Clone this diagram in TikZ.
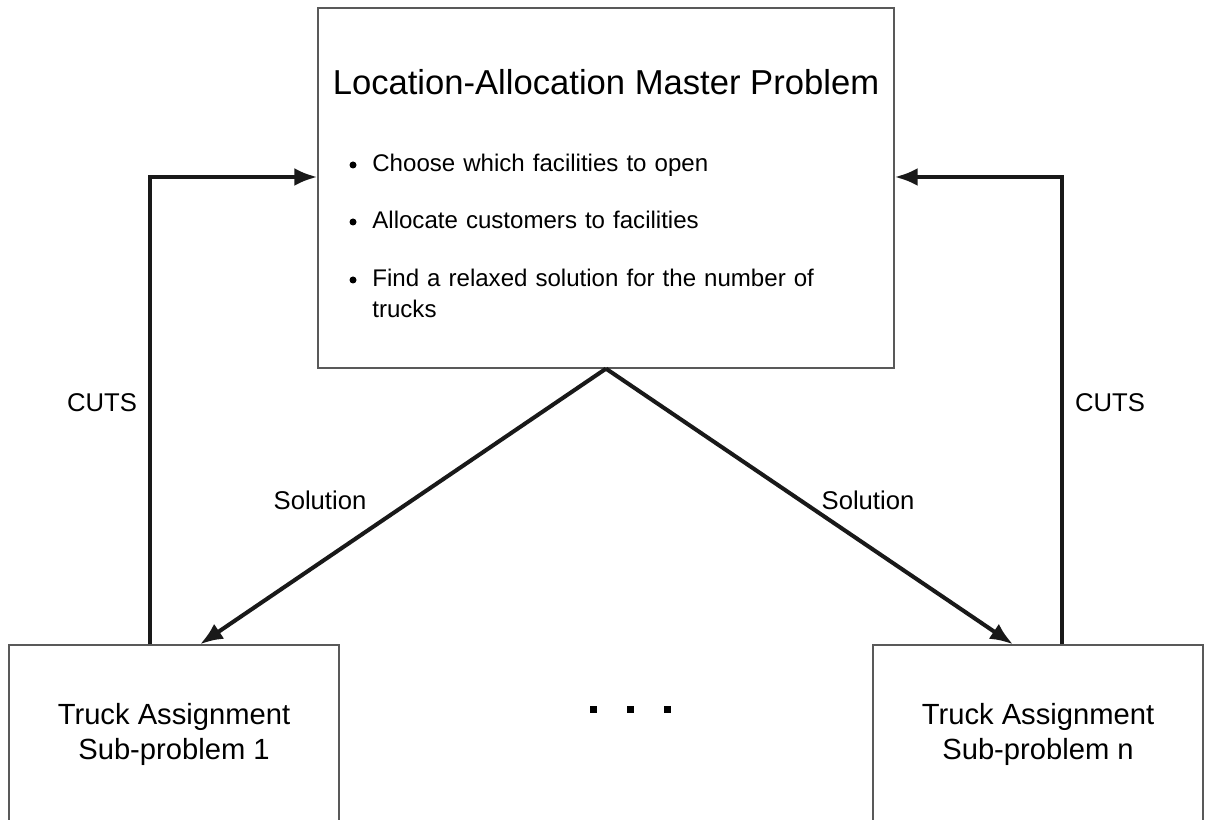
\documentclass[tikz,border=0pt]{standalone}
\usepackage{fontspec}
\setmainfont{Liberation Sans}
\usetikzlibrary{arrows.meta, positioning}

\tikzset{
    box/.style={draw=black!65, line width=0.75pt, minimum width=6.6cm, minimum height=3.56cm,
        align=center, font=\fontsize{16.6}{19.9}\selectfont},
    flow/.style={line width=2.3pt, color=black!90, -{Latex[length=0.46cm, width=0.36cm]}},
    lbl/.style={font=\fontsize{14.6}{17}\selectfont, inner sep=0pt},
    item/.style={anchor=base west, inner sep=0pt, text width=9.2cm, align=left,
        font=\fontsize{13.7}{17.1}\selectfont},
}

\begin{document}
\begin{tikzpicture}
    \clip (0,0) rectangle (24.12,-16.4);

    % master problem
    \node[draw=black!65, line width=0.75pt, minimum width=11.52cm, minimum height=7.2cm] (master) at (12.12,-3.76) {};
    \node[anchor=base, inner sep=0pt, font=\fontsize{19.7}{23}\selectfont] (title) at (12.12,-1.9) {Location-Allocation Master Problem};
    \node[item] (choose) at (7.44,-3.44) {Choose which facilities to open};
    \node[item] (alloc) at (7.44,-4.58) {Allocate customers to facilities};
    \node[item] (relax) at (7.44,-5.74) {Find a relaxed solution for the number of trucks};
    \foreach \y in {-3.44,-4.58,-5.74}
        \fill (7.06,\y+0.14) circle (0.07);

    % sub-problems
    \node[box] (sub1) at (3.48,-14.68) {Truck Assignment\\Sub-problem 1};
    \node[box] (subn) at (20.76,-14.68) {Truck Assignment\\Sub-problem n};
    \foreach \x in {11.86,12.6,13.34}
        \fill (\x-0.07,-14.25) rectangle ++(0.14,0.14);

    % solutions and cuts
    \draw[flow] (master.south) -- ([xshift=0.52cm]sub1.north);
    \draw[flow] (master.south) -- ([xshift=-0.5cm]subn.north);
    \draw[flow] ([xshift=-0.48cm]sub1.north) |- ([yshift=0.22cm]master.west);
    \draw[flow] ([xshift=0.48cm]subn.north) |- ([yshift=0.22cm]master.east);

    \node[lbl] (cutl) at (2.04,-8.06) {CUTS};
    \node[lbl] (cutr) at (22.2,-8.06) {CUTS};
    \node[lbl] (soll) at (6.4,-10.0) {Solution};
    \node[lbl] (solr) at (17.36,-10.0) {Solution};
\end{tikzpicture}
\end{document}
